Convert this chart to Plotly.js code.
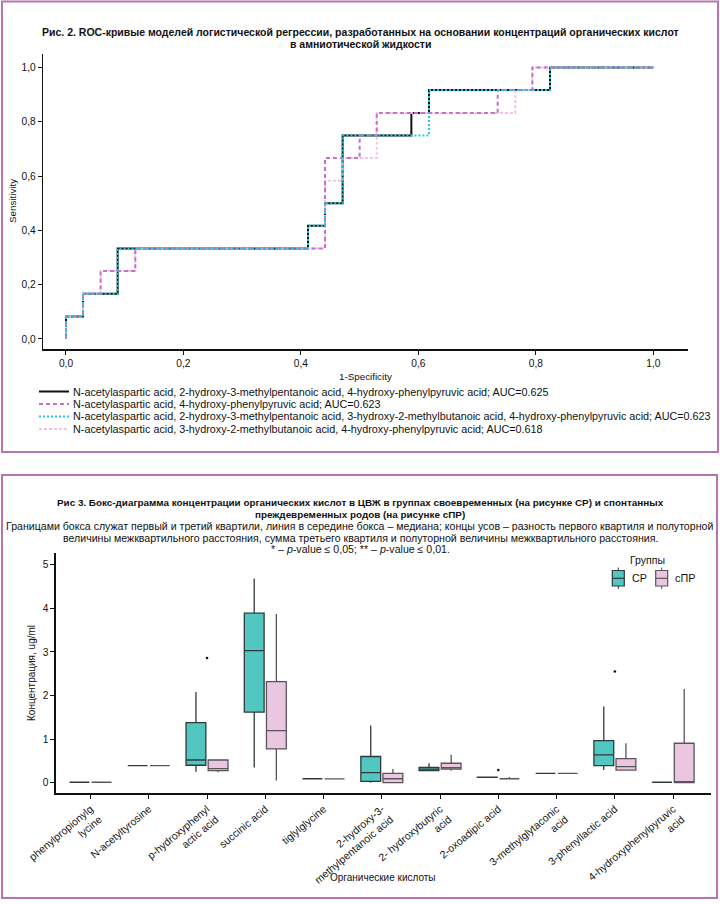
<!DOCTYPE html>
<html><head><meta charset="utf-8">
<script src="https://cdn.plot.ly/plotly-3.0.1.min.js"></script>
<style>html,body{margin:0;padding:0;background:#fff}#chart{width:720px;height:904px}</style>
</head><body><div id="chart"></div>
<script>
// ---------- Figure 2: ROC curves ----------
const rocNames = [
  "N-acetylaspartic acid, 2-hydroxy-3-methylpentanoic acid, 4-hydroxy-phenylpyruvic acid; AUC=0.625",
  "N-acetylaspartic acid, 4-hydroxy-phenylpyruvic acid; AUC=0.623",
  "N-acetylaspartic acid, 2-hydroxy-3-methylpentanoic acid, 3-hydroxy-2-methylbutanoic acid, 4-hydroxy-phenylpyruvic acid; AUC=0.623",
  "N-acetylaspartic acid, 3-hydroxy-2-methylbutanoic acid, 4-hydroxy-phenylpyruvic acid; AUC=0.618"
];
const roc1Fpr = [0, 0, 0.029, 0.088, 0.412, 0.441, 0.471, 0.588, 0.618, 0.824, 1];
const roc1Tpr = [0, 0.083, 0.167, 0.333, 0.417, 0.5, 0.75, 0.833, 0.917, 1, 1];
const roc2Fpr = [0, 0, 0.029, 0.059, 0.118, 0.441, 0.5, 0.529, 0.735, 0.794, 1];
const roc2Tpr = [0, 0.083, 0.167, 0.25, 0.333, 0.667, 0.75, 0.833, 0.917, 1, 1];
const roc3Fpr = [0, 0, 0.029, 0.088, 0.412, 0.441, 0.471, 0.618, 0.824, 1];
const roc3Tpr = [0, 0.083, 0.167, 0.333, 0.417, 0.5, 0.75, 0.917, 1, 1];
const roc4Fpr = [0, 0, 0.029, 0.059, 0.118, 0.441, 0.471, 0.529, 0.765, 0.794, 1];
const roc4Tpr = [0, 0.083, 0.167, 0.25, 0.333, 0.583, 0.667, 0.833, 0.917, 1, 1];
const rocTicks = [0, 0.2, 0.4, 0.6, 0.8, 1.0];

// ---------- Figure 3: box plots ----------
const acids = ["phenylpropionylg<br>lycine", "N-acetyltyrosine", "p-hydroxyphenyl<br>actic acid", "succinic acid",
  "tiglylglycine", "2-hydroxy-3-<br>methylpentanoic acid", "2- hydroxybutyric<br>acid", "2-oxoadipic acid",
  "3-methylglytaconic<br>acid", "3-phenyllactic acid", "4-hydroxyphenylpyruvic<br>acid"];
const cpLow  = [0.01, 0.39, 0.25, 0.35, 0.09, 0.00, 0.27, 0.12, 0.215, 0.29, 0.01];
const cpQ1   = [0.01, 0.39, 0.40, 1.62, 0.09, 0.03, 0.275, 0.12, 0.215, 0.39, 0.01];
const cpMed  = [0.01, 0.39, 0.52, 3.03, 0.09, 0.23, 0.31, 0.12, 0.215, 0.637, 0.01];
const cpQ3   = [0.01, 0.39, 1.38, 3.89, 0.09, 0.60, 0.35, 0.125, 0.215, 0.966, 0.01];
const cpHigh = [0.01, 0.39, 2.08, 4.68, 0.09, 1.31, 0.445, 0.13, 0.23, 1.75, 0.01];
const sprLow  = [0.01, 0.39, 0.24, 0.05, 0.085, 0.00, 0.275, 0.09, 0.215, 0.28, 0.00];
const sprQ1   = [0.01, 0.39, 0.275, 0.775, 0.085, 0.00, 0.31, 0.09, 0.215, 0.29, 0.00];
const sprMed  = [0.01, 0.39, 0.32, 1.195, 0.085, 0.09, 0.345, 0.09, 0.215, 0.37, 0.01];
const sprQ3   = [0.01, 0.39, 0.52, 2.32, 0.085, 0.215, 0.445, 0.09, 0.215, 0.55, 0.905];
const sprHigh = [0.01, 0.39, 0.52, 3.87, 0.085, 0.315, 0.64, 0.13, 0.23, 0.905, 2.15];
const outlierCat = [2, 7, 9];
const outlierVal = [2.86, 0.29, 2.55];
const groupNames = ["СР", "сПР"];
const boxTicks = [0, 1, 2, 3, 4, 5];

const FF = '"Liberation Sans", Arial, sans-serif';
const W = 720, H = 904;
const px = x => x / W;
const py = y => 1 - y / H;

const BORDER = '#b874ac';
const CP_FILL = '#52c6c1', SPR_FILL = '#ebc6e0';
const CP_LINE = '#2f3a3a', SPR_LINE = '#5a545a';

const traces = [];
const rocStyles = [
  {x: roc1Fpr, y: roc1Tpr, color: '#111111', dash: 'solid'},
  {x: roc4Fpr, y: roc4Tpr, color: '#f2c3e6', dash: '3px,2px'},
  {x: roc2Fpr, y: roc2Tpr, color: '#c96fc6', dash: '4px,3px'},
  {x: roc3Fpr, y: roc3Tpr, color: '#1ec8e0', dash: '2px,2px'}
];
rocStyles.forEach(s => traces.push({
  type: 'scatter', mode: 'lines', x: s.x, y: s.y, xaxis: 'x', yaxis: 'y',
  line: {color: s.color, width: 2, dash: s.dash, shape: 'hv'}, showlegend: false, hoverinfo: 'skip'
}));

const idx = acids.map((_, i) => i);
traces.push({
  type: 'box', name: groupNames[0], x: idx.map(i => i - 0.19), q1: cpQ1, median: cpMed, q3: cpQ3,
  lowerfence: cpLow, upperfence: cpHigh, width: 0.34, whiskerwidth: 0, boxpoints: false,
  fillcolor: CP_FILL, line: {color: CP_LINE, width: 1.3}, xaxis: 'x2', yaxis: 'y2', showlegend: false
});
traces.push({
  type: 'box', name: groupNames[1], x: idx.map(i => i + 0.19), q1: sprQ1, median: sprMed, q3: sprQ3,
  lowerfence: sprLow, upperfence: sprHigh, width: 0.34, whiskerwidth: 0, boxpoints: false,
  fillcolor: SPR_FILL, line: {color: SPR_LINE, width: 1.3}, xaxis: 'x2', yaxis: 'y2', showlegend: false
});
traces.push({
  type: 'scatter', mode: 'markers', x: outlierCat, y: outlierVal, xaxis: 'x2', yaxis: 'y2',
  marker: {size: 2.6, color: '#111'}, showlegend: false, hoverinfo: 'skip'
});

const annotations = [];
function txt(x, y, text, size, opts){
  annotations.push(Object.assign({xref: 'paper', yref: 'paper', x: px(x), y: py(y), text: text,
    showarrow: false, xanchor: 'center', yanchor: 'middle', font: {size: size, color: '#111', family: FF}}, opts || {}));
}
const shapes = [];
// Fig 2 texts
txt(360, 32, '<b>Рис. 2. ROC-кривые моделей логистической регрессии, разработанных на основании концентраций органических кислот</b>', 10.5);
txt(360, 44.5, '<b>в амниотической жидкости</b>', 10.5);
txt(12, 201, 'Sensitivity', 9.8, {textangle: -90});
txt(365, 376, '1-Specificity', 9.8);
const legendRows = [391.5, 404, 416.5, 429];
const legendOrder = [0, 2, 3, 1];
rocNames.forEach((n, i) => {
  const st = rocStyles[legendOrder[i]];
  txt(71, legendRows[i], n, 10.8, {xanchor: 'left'});
  shapes.push({type: 'line', xref: 'paper', yref: 'paper', x0: px(39), x1: px(69), y0: py(legendRows[i]), y1: py(legendRows[i]),
    line: {color: st.color, width: 2, dash: st.dash}});
});
// Fig 3 texts
txt(360, 503, '<b>Рис 3. Бокс-диаграмма концентрации органических кислот в ЦВЖ в группах своевременных (на рисунке СР) и спонтанных</b>', 9.9);
txt(360, 514.5, '<b>преждевременных родов (на рисунке сПР)</b>', 9.9);
txt(359, 526, 'Границами бокса служат первый и третий квартили, линия в середине бокса – медиана; концы усов – разность первого квартиля и полуторной', 10.6);
txt(360, 537.5, 'величины межквартильного расстояния, сумма третьего квартиля и полуторной величины межквартильного расстояния.', 10.6);
txt(360, 548.5, '* – <i>p</i>-value ≤ 0,05; ** – <i>p</i>-value ≤ 0,01.', 10.6);
txt(31, 673, 'Концентрация, ug/ml', 10, {textangle: -90});
txt(383, 877, 'Органические кислоты', 10);

// Fig 3 group legend (keys drawn like the reference: box, median line, whisker stubs)
txt(647, 560, 'Группы', 10.5);
const keyFill = [CP_FILL, SPR_FILL], keyLine = [CP_LINE, SPR_LINE], keyX = [612.3, 655.7], keyTextX = [630, 673];
groupNames.forEach((g, i) => {
  const x0 = keyX[i], x1 = keyX[i] + 12, xc = keyX[i] + 6;
  shapes.push({type: 'rect', xref: 'paper', yref: 'paper', x0: px(x0), x1: px(x1), y0: py(570.5), y1: py(586),
    fillcolor: keyFill[i], line: {color: keyLine[i], width: 1.2}});
  shapes.push({type: 'line', xref: 'paper', yref: 'paper', x0: px(x0), x1: px(x1), y0: py(578.3), y1: py(578.3), line: {color: keyLine[i], width: 1.2}});
  shapes.push({type: 'line', xref: 'paper', yref: 'paper', x0: px(xc), x1: px(xc), y0: py(567.5), y1: py(570.5), line: {color: keyLine[i], width: 1}});
  shapes.push({type: 'line', xref: 'paper', yref: 'paper', x0: px(xc), x1: px(xc), y0: py(586), y1: py(589), line: {color: keyLine[i], width: 1}});
  txt(keyTextX[i], 578.3, g, 10.8, {xanchor: 'left'});
});

shapes.push({type: 'rect', xref: 'paper', yref: 'paper', x0: px(2), x1: px(718), y0: py(1.5), y1: py(452), line: {color: BORDER, width: 2}});
shapes.push({type: 'rect', xref: 'paper', yref: 'paper', x0: px(2), x1: px(717), y0: py(475), y1: py(898), line: {color: BORDER, width: 2}});

const axisCommon = {showgrid: false, zeroline: false, showline: true, linecolor: '#111', linewidth: 1.6,
  ticks: 'outside', ticklen: 4, tickcolor: '#111', tickwidth: 1, tickfont: {size: 10.2, color: '#111', family: FF}};

const layout = {
  width: W, height: H, margin: {l: 0, r: 0, t: 0, b: 0}, paper_bgcolor: '#fff', plot_bgcolor: 'rgba(0,0,0,0)',
  separators: ', ', font: {family: FF, color: '#111'}, showlegend: false,
  xaxis: Object.assign({}, axisCommon, {domain: [px(43.3), px(688)], range: [-0.0386, 1.059], tickvals: rocTicks, tickformat: '.1f', anchor: 'y'}),
  yaxis: Object.assign({}, axisCommon, {domain: [py(349), py(54)], range: [-0.037, 1.05], tickvals: rocTicks, tickformat: '.1f', anchor: 'x'}),
  xaxis2: Object.assign({}, axisCommon, {domain: [px(56), px(711)], range: [-0.592, 10.65], tickvals: idx, ticktext: acids,
    tickangle: -40, anchor: 'y2', tickfont: {size: 10.5, color: '#111', family: FF}}),
  yaxis2: Object.assign({}, axisCommon, {domain: [py(793.3), py(553)], range: [-0.244, 5.27], tickvals: boxTicks, anchor: 'x2'}),
  boxmode: 'overlay',
  annotations: annotations, shapes: shapes
};

Plotly.newPlot('chart', traces, layout, {displayModeBar: false, staticPlot: true});
</script></body></html>
